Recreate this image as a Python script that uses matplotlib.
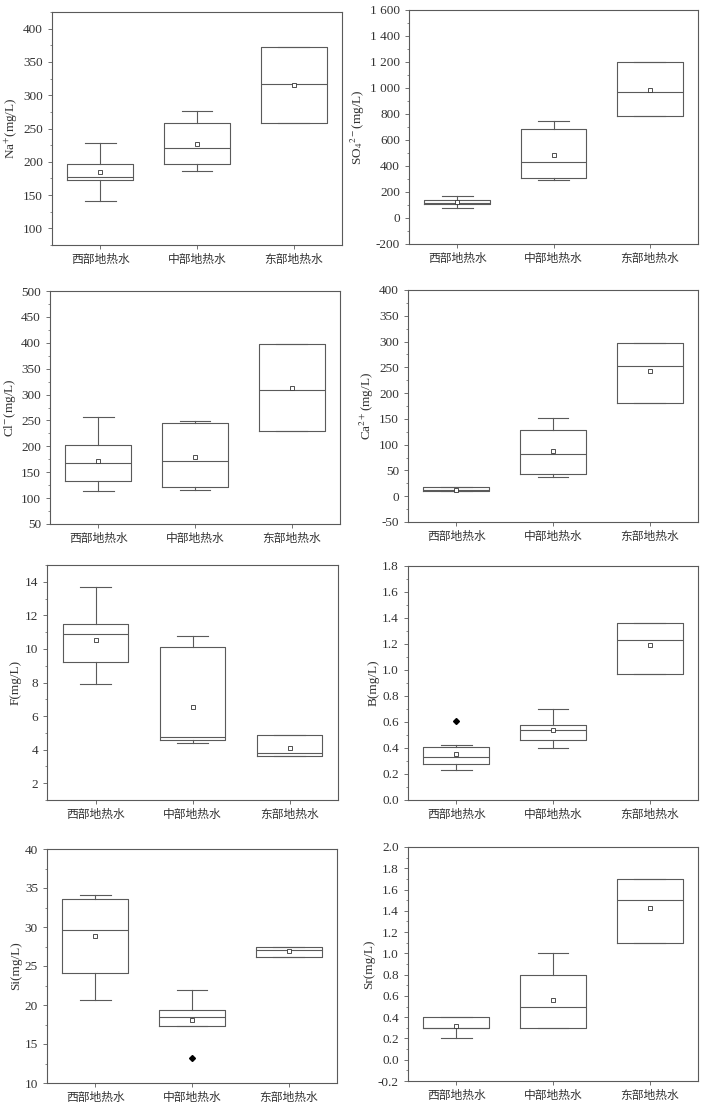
import numpy as np
import matplotlib.pyplot as plt
from matplotlib.ticker import MultipleLocator, FuncFormatter, FormatStrFormatter

plt.rcParams['font.family'] = ['Liberation Serif', 'Noto Sans CJK SC']
plt.rcParams['mathtext.fontset'] = 'stix'
plt.rcParams['axes.unicode_minus'] = False

groups = ['西部地热水', '中部地热水', '东部地热水']

# (whisker low, Q1, median, Q3, whisker high, mean) per group
na_stats = [(141, 173, 177, 197, 228, 184), (186, 197, 221, 258, 276, 226), (259, 259, 317, 372, 372, 316)]
so4_stats = [(78, 104, 118, 140, 172, 122), (292, 310, 432, 688, 748, 484), (788, 788, 972, 1202, 1202, 986)]
cl_stats = [(113, 133, 167, 202, 257, 172), (115, 121, 171, 246, 248, 179), (229, 229, 308, 398, 398, 312)]
ca_stats = [(10, 11, 13, 17, 17, 13), (38, 43, 81, 129, 151, 87), (180, 180, 252, 298, 298, 243)]
f_stats = [(7.9, 9.2, 10.9, 11.5, 13.7, 10.55), (4.4, 4.6, 4.75, 10.1, 10.8, 6.55), (3.6, 3.6, 3.8, 4.9, 4.9, 4.1)]
b_stats = [(0.23, 0.28, 0.33, 0.41, 0.42, 0.355), (0.40, 0.46, 0.535, 0.58, 0.70, 0.535), (0.97, 0.97, 1.23, 1.36, 1.36, 1.19)]
si_stats = [(20.7, 24.1, 29.6, 33.6, 34.1, 28.8), (17.3, 17.3, 18.4, 19.3, 21.9, 18.1), (26.2, 26.2, 27.0, 27.5, 27.5, 26.9)]
sr_stats = [(0.2, 0.3, 0.3, 0.4, 0.4, 0.32), (0.3, 0.3, 0.5, 0.8, 1.0, 0.565), (1.1, 1.1, 1.5, 1.7, 1.7, 1.43)]

b_outliers = [[0.61], [], []]
si_outliers = [[], [13.2], []]
no_outliers = [[], [], []]

W, H = 707, 1102
fig = plt.figure(figsize=(W / 100, H / 100), dpi=100)


def add_ax(l, t, r, b):
    return fig.add_axes([l / W, 1 - b / H, (r - l) / W, (b - t) / H])


def thousands(v, pos):
    return f'{v:,.0f}'.replace(',', ' ')


panels = [
    ('Na$^{+}$(mg/L)', na_stats, no_outliers, (75, 425), 50, 25, None, (52, 12, 342, 245)),
    ('SO$_4$$^{2-}$(mg/L)', so4_stats, no_outliers, (-200, 1600), 200, 100, FuncFormatter(thousands), (409, 10, 698, 244)),
    ('Cl$^{-}$(mg/L)', cl_stats, no_outliers, (50, 500), 50, 25, None, (50, 291, 340, 524)),
    ('Ca$^{2+}$(mg/L)', ca_stats, no_outliers, (-50, 400), 50, 25, None, (408, 290, 698, 522)),
    ('F(mg/L)', f_stats, no_outliers, (1, 15), 2, 1, None, (47, 565, 338, 800)),
    ('B(mg/L)', b_stats, b_outliers, (0, 1.8), 0.2, 0.1, FormatStrFormatter('%.1f'), (408, 566, 698, 800)),
    ('Si(mg/L)', si_stats, si_outliers, (10, 40), 5, 2.5, None, (47, 849, 337, 1083)),
    ('Sr(mg/L)', sr_stats, no_outliers, (-0.2, 2.0), 0.2, 0.1, FormatStrFormatter('%.1f'), (408, 847, 698, 1081)),
]

line_c = '#5a5a5a'
text_c = '#333333'

for label, stats, outl, ylim, major, minor, fmt, box in panels:
    ax = add_ax(*box)
    bstats = []
    for (lo, q1, med, q3, hi, mean), fl, g in zip(stats, outl, groups):
        bstats.append({'whislo': lo, 'q1': q1, 'med': med, 'q3': q3, 'whishi': hi,
                       'mean': mean, 'fliers': np.array(fl), 'label': g})
    lp = dict(color=line_c, linewidth=0.8)
    ax.bxp(bstats, positions=[1, 2, 3], widths=0.68, capwidths=0.32, showmeans=True,
           boxprops=lp, whiskerprops=lp, capprops=lp, medianprops=lp,
           meanprops=dict(marker='s', markersize=3, markerfacecolor='white',
                          markeredgecolor='#333333', markeredgewidth=0.6),
           flierprops=dict(marker='D', markersize=3, markerfacecolor='black',
                           markeredgecolor='black'))
    ax.set_xlim(0.5, 3.5)
    ax.set_ylim(*ylim)
    ax.yaxis.set_major_locator(MultipleLocator(major))
    ax.yaxis.set_minor_locator(MultipleLocator(minor))
    if fmt is not None:
        ax.yaxis.set_major_formatter(fmt)
    ax.set_ylabel(label, fontsize=9.5, color=text_c, labelpad=2)
    ax.tick_params(axis='y', which='major', direction='out', length=3, width=0.6,
                   color=line_c, labelsize=9.5, labelcolor=text_c)
    ax.tick_params(axis='x', which='major', direction='out', length=3, width=0.6,
                   color=line_c, labelsize=8.5, labelcolor=text_c)
    ax.tick_params(axis='y', which='minor', direction='out', length=1.5, width=0.5, color=line_c)
    for s in ax.spines.values():
        s.set_color(line_c)
        s.set_linewidth(0.8)

fig.savefig('out.png', dpi=100)
